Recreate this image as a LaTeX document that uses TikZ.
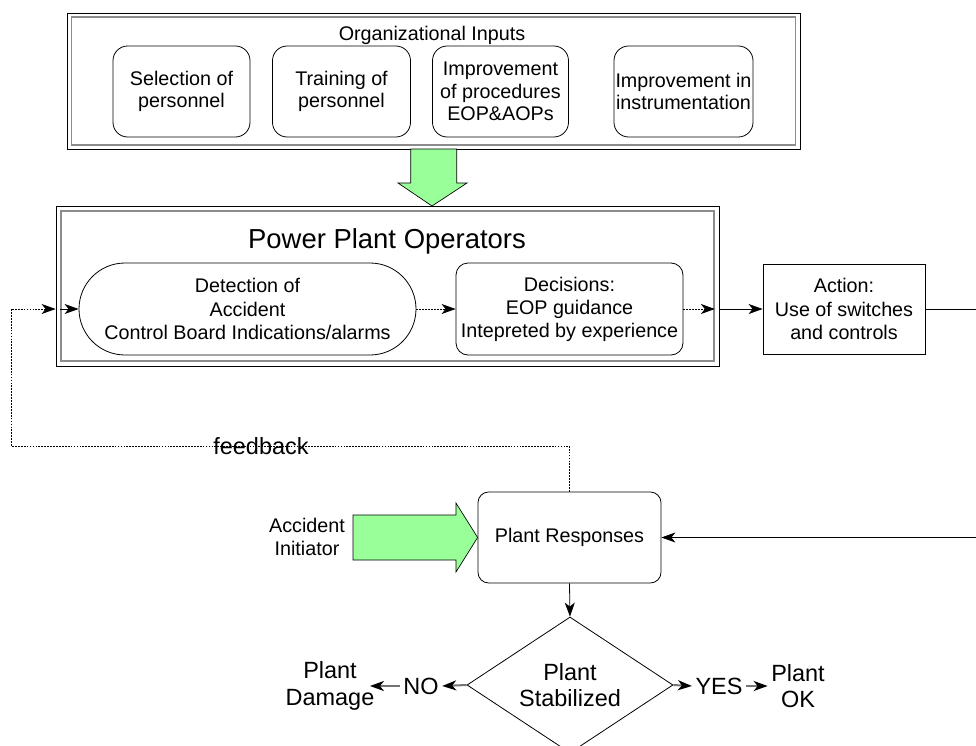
\documentclass[tikz,border=0pt]{standalone}
\usepackage{fontspec}
\setmainfont{Liberation Sans}
\usetikzlibrary{arrows.meta,shapes.geometric,shapes.misc,calc}
\definecolor{blockgreen}{RGB}{153,255,153}
\definecolor{framegray}{RGB}{140,140,140}

\begin{document}
\begin{tikzpicture}[x=0.75pt,y=-0.75pt,
  base/.style={font=\fontsize{14.8}{16.8}\selectfont, align=center, inner sep=0pt},
  basewide/.style={font=\fontsize{14.8}{17.3}\selectfont, align=center, inner sep=0pt},
  big/.style={font=\fontsize{17.6}{20}\selectfont, align=center, inner sep=2.5pt},
  outerframe/.style={draw=black, line width=0.6pt, inner sep=0pt},
  innerframe/.style={draw=framegray, line width=1.3pt, inner sep=0pt},
  orgbox/.style={base, draw, line width=0.6pt, rounded corners=11pt},
  stepbox/.style={basewide, draw, line width=0.6pt},
  arr/.style={line width=0.6pt, -{Stealth[length=10.5pt,width=7.5pt,inset=3pt]}},
  fb/.style={arr, line width=0.55pt, dash pattern=on 1.3pt off 0.9pt},
  garr/.style={draw=black!55, line width=1.5pt, -{Stealth[length=10.5pt,width=7.5pt,inset=3pt,color=black,fill=black]}},
  blockarrow/.style={draw=black, line width=0.5pt, fill=blockgreen}
]
\useasboundingbox (0,0) rectangle (976,746);

% ---- organizational inputs ----
\node[outerframe, minimum width=733*0.75pt, minimum height=136*0.75pt] (orgout) at (433.5,81) {};
\node[innerframe, minimum width=724*0.75pt, minimum height=128*0.75pt] (orgin) at (433.5,81) {};
\node[base] (orgtitle) at (432,35) {Organizational Inputs};
\node[orgbox, minimum width=137*0.75pt, minimum height=91*0.75pt] (sel) at (181.5,91.5) {Selection of\\personnel};
\node[orgbox, minimum width=138*0.75pt, minimum height=91*0.75pt] (train) at (341.5,91.5) {Training of\\personnel};
\node[orgbox, minimum width=136*0.75pt, minimum height=91*0.75pt] (proc) at (500.5,91.5) {Improvement\\of procedures\\EOP\&AOPs};
\node[orgbox, minimum width=139*0.75pt, minimum height=91*0.75pt] (instr) at (683.5,91.5) {Improvement in\\instrumentation};

% ---- power plant operators ----
\node[outerframe, minimum width=663*0.75pt, minimum height=160*0.75pt] (ppout) at (387.5,286) {};
\node[innerframe, minimum width=653*0.75pt, minimum height=150*0.75pt] (ppin) at (387.5,286) {};
\node[font=\fontsize{20.6}{24}\selectfont, inner sep=0pt] (pptitle) at (387,241) {Power Plant Operators};
\node[basewide, draw, line width=0.6pt, rounded rectangle, minimum width=337*0.75pt, minimum height=92*0.75pt] (det) at (247.5,309) {Detection of\\Accident\\Control Board Indications/alarms};
\node[stepbox, rounded corners=9pt, minimum width=227*0.75pt, minimum height=92*0.75pt] (dec) at (569.5,309) {Decisions:\\EOP guidance\\Intepreted by experience};
\node[stepbox, minimum width=162*0.75pt, minimum height=90*0.75pt] (act) at (844,309) {Action:\\Use of switches\\and controls};

% green arrow from inputs to operators
\coordinate (downtip) at (432,206);
\draw[blockarrow] (410.7,149) -- (456.7,149) -- (456.7,183) -- (467,183)
  -- (downtip) -- (398,183) -- (410.7,183) -- cycle;

% ---- plant responses ----
\node[stepbox, rounded corners=8pt, minimum width=183*0.75pt, minimum height=91*0.75pt] (resp) at (569.5,537.5) {Plant Responses};
\node[base] (init) at (307,537) {Accident\\Initiator};
\draw[blockarrow] (353,515) -- (456,515) -- (456,503) -- (resp.west)
  -- (456,572) -- (456,560) -- (353,560) -- cycle;

% ---- decision ----
\node[draw, line width=0.6pt, diamond, inner sep=0pt, minimum width=206*0.75pt, minimum height=136*0.75pt] (stab) at (570,685) {};
\node[big] (stabtext) at (stab.center) {Plant\\Stabilized};
\node[big] (no) at (421,686) {NO};
\node[big] (dmg) at (330,686) {Plant\\Damage};
\node[big] (yes) at (719,686) {YES};
\node[big] (ok) at (798,686) {Plant\\OK};

% ---- connectors ----
\coordinate (fbcorner) at (11,446);
\coordinate (offright) at (990,309);
\draw[fb] (resp.north) |- (fbcorner) |- (ppout.west |- det.west);
\node[big, inner sep=0pt] (fblabel) at (261,446) {feedback};
\draw[arr] (ppin.west |- det.west) -- (det.west);
\draw[fb] (det.east) -- (dec.west);
\draw[fb] (dec.east) -- (ppin.east |- dec.east);
\draw[arr] (ppout.east |- act.west) -- (act.west);
\draw[arr] (act.east) -- (offright) |- (resp.east);
\draw[arr] (resp.south) -- (stab.north);
\draw[garr] (stab.west) -- (no.east);
\draw[garr, shorten >=-6pt] (no.west) -- (dmg.east);
\draw[garr] (stab.east) -- (yes.west);
\draw[garr] (yes.east) -- (ok.west);
\end{tikzpicture}
\end{document}
